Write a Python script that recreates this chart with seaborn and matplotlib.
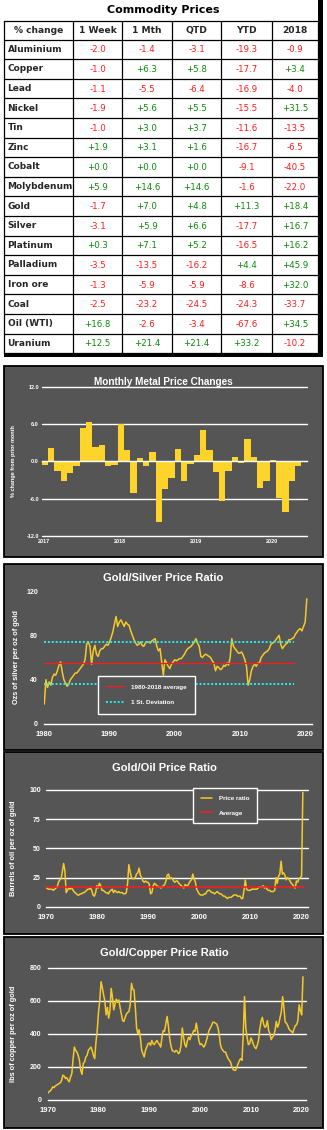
import numpy as np
import pandas as pd
import matplotlib
matplotlib.use("Agg")
import matplotlib.pyplot as plt
from matplotlib.patches import Rectangle
import seaborn as sns

# ---------------- data ----------------
commodities = ["Aluminium", "Copper", "Lead", "Nickel", "Tin", "Zinc", "Cobalt",
               "Molybdenum", "Gold", "Silver", "Platinum", "Palladium",
               "Iron ore", "Coal", "Oil (WTI)", "Uranium"]
table_headers = ["% change", "1 Week", "1 Mth", "QTD", "YTD", "2018"]
chg_week = [-2.0, -1.0, -1.1, -1.9, -1.0, 1.9, 0.0, 5.9, -1.7, -3.1, 0.3, -3.5, -1.3, -2.5, 16.8, 12.5]
chg_month = [-1.4, 6.3, -5.5, 5.6, 3.0, 3.1, 0.0, 14.6, 7.0, 5.9, 7.1, -13.5, -5.9, -23.2, -2.6, 21.4]
chg_qtd = [-3.1, 5.8, -6.4, 5.5, 3.7, 1.6, 0.0, 14.6, 4.8, 6.6, 5.2, -16.2, -5.9, -24.5, -3.4, 21.4]
chg_ytd = [-19.3, -17.7, -16.9, -15.5, -11.6, -16.7, -9.1, -1.6, 11.3, -17.7, -16.5, 4.4, -8.6, -24.3, -67.6, 33.2]
chg_2018 = [-0.9, 3.4, -4.0, 31.5, -13.5, -6.5, -40.5, -22.0, 18.4, 16.7, 16.2, 45.9, 32.0, -33.7, 34.5, -10.2]

# Monthly metal price changes, Jan 2017 .. May 2020 (%)
monthly_change = [-0.6, 2.1, -1.5, -3.2, -1.9, -0.8, 5.4, 6.4, 2.3, 2.7, -0.8, -0.5,
                  6.1, 1.8, -5.0, 0.5, -0.8, 1.6, -9.8, -4.4, -2.6, 2.0, -3.2, -0.4,
                  1.1, 5.1, 1.8, -1.7, -6.3, -1.5, 0.7, -0.3, 3.6, 0.8, -4.3, -3.1,
                  0.2, -5.8, -8.2, -3.1, -0.8]
monthly_years = ["2017", "2018", "2019", "2020"]
monthly_yticks = [-12, -6, 0, 6, 12]

# Gold/Silver ratio, quarterly from 1980
gs_start = 1980
gs_ratio = [18, 40, 33, 38,  35, 42, 45, 44,  48, 53, 56, 47,  40, 37, 34, 36,
            40, 42, 44, 46,  46, 48, 50, 52,  54, 58, 72, 74,  70, 54, 66, 71,
            63, 61, 66, 68,  68, 70, 72, 71,  74, 78, 83, 90,  97, 88, 92, 94,
            91, 88, 92, 90,  89, 84, 80, 76,  73, 71, 72, 74,  71, 70, 73, 74,
            74, 73, 75, 76,  77, 70, 66, 68,  56, 44, 58, 55,  52, 50, 54, 56,
            58, 57, 58, 59,  59, 61, 63, 66,  68, 69, 70, 72,  74, 77, 73, 70,
            61, 60, 62, 63,  62, 61, 60, 57,  55, 48, 52, 51,  49, 50, 53, 52,
            55, 53, 60, 77,  70, 68, 66, 64,  64, 65, 62, 58,  52, 35, 40, 48,
            52, 54, 52, 55,  55, 60, 62, 64,  65, 66, 68, 72,  73, 74, 76, 78,
            80, 72, 68, 70,  72, 73, 76, 76,  77, 78, 81, 83,  85, 86, 84, 88,
            92, 113]
gs_average = 54.7
gs_sd_upper = 74.3
gs_sd_lower = 36.1
gs_ref_span = [1980, 2018.3]
gs_yticks = [0, 40, 80, 120]

# Gold/Oil ratio, quarterly from 1970
go_start = 1970
go_ratio = [16, 16, 15, 15,  15, 15, 14, 15,  16, 17, 21, 23,  24, 30, 37, 31,
            12, 14, 16, 15,  16, 15, 13, 12,  11, 10, 10, 11,  11, 12, 12, 13,
            14, 15, 15, 16,  14, 10, 9, 12,   18, 16, 20, 18,  14, 14, 13, 12,
            12, 11, 13, 14,  15, 12, 14, 13,  12, 13, 12, 12,  12, 11, 11, 12,
            20, 36, 30, 25,  24, 24, 25, 28,  29, 33, 27, 25,  22, 21, 22, 21,
            21, 19, 11, 12,  18, 20, 19, 18,  17, 17, 16, 17,  18, 19, 22, 27,
            28, 24, 25, 24,  22, 21, 22, 22,  20, 19, 18, 17,  16, 19, 18, 18,
            20, 22, 23, 28,  24, 21, 15, 13,  11, 10, 10, 10,  11, 11, 13, 14,
            14, 13, 12, 12,  11, 12, 13, 12,  11, 11, 10, 9,   9, 8, 7, 8,
            8, 8, 9, 10,     10, 10, 9, 9,    9, 7, 7, 14,     23, 15, 14, 14,
            14, 15, 15, 15,  15, 15, 16, 17,  17, 17, 18, 16,  17, 15, 14, 14,
            13, 13, 13, 14,  25, 20, 26, 28,  39, 28, 29, 27,  23, 25, 24, 22,
            20, 19, 17, 16,  22, 21, 24, 25,  26, 98]
go_average = 17.0
go_ref_span = [1970, 2020.5]
go_yticks = [0, 25, 50, 75, 100]

# Gold/Copper ratio, quarterly from 1970
gc_start = 1970
gc_ratio = [40, 50, 55, 65,  80, 75, 85, 90,  95, 100, 105, 120,  150, 145, 130, 135,
            120, 110, 140, 160,  250, 320, 300, 290,  270, 240, 180, 155,  220, 230, 260, 270,
            300, 310, 320, 300,  270, 250, 350, 420,  530, 600, 715, 680,  635, 600, 515, 560,
            495, 540, 675, 620,  545, 580, 610, 590,  605, 560, 520, 480,  475, 500, 520, 530,
            535, 580, 705, 670,  665, 560, 435, 400,  425, 375, 300, 280,  260, 300, 320, 340,
            345, 330, 360, 340,  335, 350, 360, 345,  335, 320, 380, 420,  415, 460, 505, 450,
            375, 330, 300, 295,  290, 300, 295, 280,  290, 330, 435, 380,  335, 320, 360, 380,
            365, 390, 400, 420,  415, 465, 420, 360,  335, 340, 330, 320,  335, 360, 390, 420,
            435, 450, 470, 470,  465, 460, 440, 400,  335, 310, 300, 290,  290, 270, 250, 240,
            230, 200, 185, 180,  180, 200, 220, 240,  250, 240, 400, 625,  435, 380, 335, 340,
            375, 360, 335, 320,  310, 330, 360, 430,  475, 500, 460, 440,  445, 480, 420, 400,
            365, 380, 390, 420,  475, 440, 460, 500,  535, 625, 560, 470,  465, 450, 430, 420,
            415, 405, 430, 450,  455, 480, 575, 540,  515, 745]
gc_yticks = [0, 200, 400, 600, 800]

decade_ticks_gs = [1980, 1990, 2000, 2010, 2020]
decade_ticks_70 = [1970, 1980, 1990, 2000, 2010, 2020]

# ---------------- style ----------------
GREY = "#555555"
YELLOW = "#FFD42A"
LINE_YELLOW = "#F5C928"
RED = "#FF1A1A"
GREEN = "#0A8A0A"
CYAN = "#22F0F0"

W, H = 327, 1130
sns.set_theme(style="white")
plt.rcParams['font.family'] = ['Liberation Sans', 'DejaVu Sans']

fig = plt.figure(figsize=(W / 100, H / 100), dpi=100, facecolor="white")
base = fig.add_axes([0, 0, 1, 1])
base.set_xlim(0, W)
base.set_ylim(H, 0)
base.axis("off")


def ax_at(x0, y0, x1, y1):
    return fig.add_axes([x0 / W, 1 - y1 / H, (x1 - x0) / W, (y1 - y0) / H])


# ---------------- table ----------------
TF = "DejaVu Sans"
col_x = [4, 73, 122, 172, 221, 272, 318]
head_top, head_bot = 20.5, 39.5
row_h = 19.6
n_rows = len(commodities)
row_lines = [head_top, head_bot] + [head_bot + row_h * (k + 1) for k in range(n_rows)]
for yv in row_lines:
    base.plot([col_x[0], col_x[-1]], [yv, yv], color="black", lw=0.9)
for xv in col_x:
    base.plot([xv, xv], [head_top, row_lines[-1]], color="black", lw=0.9)
base.add_patch(Rectangle((318, 0), 4.5, row_lines[-1] + 4, color="black", lw=0))
base.add_patch(Rectangle((4, row_lines[-1]), 318.5, 4, color="black", lw=0))

base.text(163, 10, "Commodity Prices", ha="center", va="center", fontsize=8,
          fontweight="bold", family=TF, color="black")
for j, h in enumerate(table_headers):
    base.text((col_x[j] + col_x[j + 1]) / 2, (head_top + head_bot) / 2 + 0.5, h,
              ha="center", va="center", fontsize=6.6, fontweight="bold", family=TF)
columns = [chg_week, chg_month, chg_qtd, chg_ytd, chg_2018]
for i, name in enumerate(commodities):
    yc = head_bot + row_h * (i + 0.5)
    base.text(7.5, yc, name, ha="left", va="center", fontsize=6.5,
              fontweight="bold", family=TF)
    for j, col in enumerate(columns):
        v = col[i]
        base.text((col_x[j + 1] + col_x[j + 2]) / 2, yc + 0.5, f"{v:+.1f}",
                  ha="center", va="center", fontsize=6.2, family=TF,
                  color=GREEN if v >= 0 else RED)

# ---------------- panels ----------------
for (y0, y1) in [(366, 557), (564, 750), (752, 934), (937, 1128)]:
    base.add_patch(Rectangle((4, y0), 319, y1 - y0, facecolor=GREY,
                             edgecolor="black", lw=1.3))

title_kw = dict(ha="center", va="center", color="white", fontweight="bold")
base.text(163, 382, "Monthly Metal Price Changes", fontsize=7.2, **title_kw)
base.text(163, 578, "Gold/Silver Price Ratio", fontsize=8, **title_kw)
base.text(164, 768, "Gold/Oil Price Ratio", fontsize=8, **title_kw)
base.text(164, 953, "Gold/Copper Price Ratio", fontsize=8, **title_kw)


def style_axes(ax):
    ax.set_facecolor("none")
    for s in ["left", "right", "top"]:
        ax.spines[s].set_visible(False)
    ax.spines["bottom"].set_color("white")
    ax.spines["bottom"].set_linewidth(1.0)


# ---------------- monthly bars ----------------
ax1 = ax_at(41.7, 387, 307, 536)
dfm = pd.DataFrame({"month": np.arange(len(monthly_change)), "chg": monthly_change})
sns.barplot(data=dfm, x="month", y="chg", ax=ax1, color=YELLOW, width=1.0,
            saturation=1, linewidth=0, edgecolor="none", zorder=2)
style_axes(ax1)
ax1.set_xlim(-0.5, 41.4)
ax1.set_ylim(-12, 12)
ax1.spines["bottom"].set_position(("data", 0))
ax1.spines["bottom"].set_zorder(5)
ax1.set_yticks(monthly_yticks)
ax1.set_yticklabels([f"{v:.1f}" for v in monthly_yticks])
ax1.grid(False)
for v in monthly_yticks:
    if v != 0:
        ax1.axhline(v, color="white", lw=1.0, zorder=1, clip_on=False)
year_pos = [-0.5 + 12 * k for k in range(len(monthly_years))]
ax1.set_xticks(year_pos)
ax1.tick_params(axis="x", direction="inout", length=4, width=0.8, color="white",
                labelbottom=False)
ax1.tick_params(axis="y", length=0, pad=2, labelsize=4, labelcolor="white")
for lab in ax1.get_yticklabels():
    lab.set_fontweight("bold")
sec = ax1.secondary_xaxis("bottom")
sec.set_xticks([p + 0.3 for p in year_pos])
sec.set_xticklabels(monthly_years)
sec.tick_params(length=0, pad=2.5, labelsize=4, labelcolor="white")
sec.spines["bottom"].set_visible(False)
for lab in sec.get_xticklabels():
    lab.set_fontweight("bold")
ax1.set_xlabel("")
ax1.set_ylabel("% change from prior month", color="white", fontsize=4, fontweight="bold")
ax1.yaxis.set_label_coords((16 - 41.7) / 265.3, 0.5)


def line_axes(ax, xlim, ylim, yticks, xticks, ylabel, ylabel_x_px, left_px, width_px,
              ypad, grid):
    style_axes(ax)
    ax.set_xlim(*xlim)
    ax.set_ylim(*ylim)
    ax.set_yticks(yticks)
    ax.set_xticks(xticks)
    ax.grid(False)
    if grid:
        for v in yticks[1:]:
            ax.axhline(v, color="white", lw=1.0, zorder=1, clip_on=False)
    ax.tick_params(axis="x", direction="out", length=3, width=0.8, color="white",
                   labelcolor="white", labelsize=5.5, pad=2)
    ax.tick_params(axis="y", length=0, labelcolor="white", labelsize=5, pad=ypad)
    for lab in ax.get_xticklabels() + ax.get_yticklabels():
        lab.set_fontweight("bold")
    ax.set_xlabel("")
    ax.set_ylabel(ylabel, color="white", fontsize=5.3, fontweight="bold")
    ax.yaxis.set_label_coords((ylabel_x_px - left_px) / width_px, 0.5)


# ---------------- gold / silver ----------------
ax2 = ax_at(44.3, 591, 311.7, 724)
gs_x = gs_start + np.arange(len(gs_ratio)) / 4
sns.lineplot(x=gs_x, y=gs_ratio, ax=ax2, color=LINE_YELLOW, lw=1.1, zorder=3)
l_avg, = ax2.plot(gs_ref_span, [gs_average] * 2, color=RED, lw=0.9,
                  label="1980-2018 average", zorder=4)
l_sd, = ax2.plot(gs_ref_span, [gs_sd_upper] * 2, color=CYAN, lw=1.4, ls=(0, (1, 1)),
                 label="1 St. Deviation", zorder=4)
ax2.plot(gs_ref_span, [gs_sd_lower] * 2, color=CYAN, lw=1.4, ls=(0, (1, 1)), zorder=4)
line_axes(ax2, (1980, 2021), (0, 120), gs_yticks, decade_ticks_gs,
          "Ozs of silver per oz of gold", 20, 44.3, 267.4, 4.5, False)
leg2 = ax2.legend(handles=[l_avg, l_sd], loc="upper left",
                  bbox_to_anchor=((98 - 44.3) / 267.4, (724 - 676) / 133),
                  borderaxespad=0, frameon=True, fancybox=False, framealpha=1,
                  facecolor=GREY, edgecolor="white", labelcolor="white",
                  prop={"size": 4.5, "weight": "bold"}, handlelength=2.8,
                  handletextpad=1.2, labelspacing=1.7, borderpad=1.3)
leg2.get_frame().set_linewidth(1.0)
leg2.set_zorder(10)

# ---------------- gold / oil ----------------
ax3 = ax_at(45.7, 790, 307.7, 906.7)
go_x = go_start + np.arange(len(go_ratio)) / 4
p_line, = ax3.plot([], [], color=LINE_YELLOW, lw=1.1, label="Price ratio")
sns.lineplot(x=go_x, y=go_ratio, ax=ax3, color=LINE_YELLOW, lw=1.1, zorder=3)
a_line, = ax3.plot(go_ref_span, [go_average] * 2, color=RED, lw=1.1, label="Average", zorder=4)
line_axes(ax3, (1970, 2021.2), (0, 100), go_yticks, decade_ticks_70,
          "Barrels of oil per oz of gold", 16.7, 45.7, 262, 3.6, True)
leg3 = ax3.legend(handles=[p_line, a_line], loc="upper left",
                  bbox_to_anchor=((193 - 45.7) / 262, (906.7 - 788) / 116.7),
                  borderaxespad=0, frameon=True, fancybox=False, framealpha=1,
                  facecolor=GREY, edgecolor="white", labelcolor="white",
                  prop={"size": 4.5, "weight": "bold"}, handlelength=1.9,
                  handletextpad=1.0, labelspacing=1.5, borderpad=1.2)
leg3.get_frame().set_linewidth(1.0)
leg3.set_zorder(10)

# ---------------- gold / copper ----------------
ax4 = ax_at(47.7, 967.7, 306, 1100)
gc_x = gc_start + np.arange(len(gc_ratio)) / 4
sns.lineplot(x=gc_x, y=gc_ratio, ax=ax4, color=LINE_YELLOW, lw=1.1, zorder=3)
line_axes(ax4, (1970, 2020.85), (0, 800), gc_yticks, decade_ticks_70,
          "lbs of copper per oz of gold", 16.7, 47.7, 258.3, 4.3, True)

fig.savefig("out.png", dpi=100, facecolor="white")
